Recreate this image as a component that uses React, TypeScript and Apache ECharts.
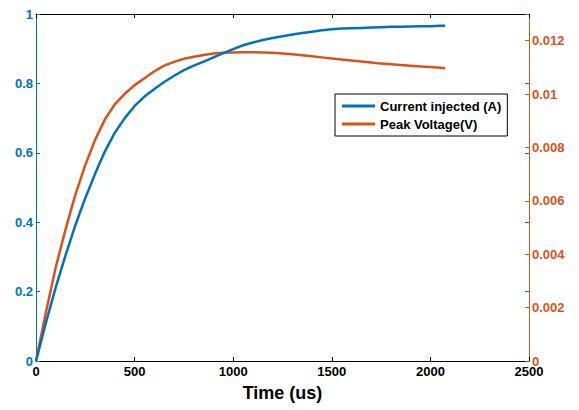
import React, { useEffect, useRef } from "react";
import * as echarts from "echarts";

const timeUs = [0, 50, 100, 150, 200, 250, 300, 350, 400, 450, 500, 550, 600, 650, 700, 750, 800, 850, 900, 950, 1000, 1050, 1100, 1150, 1200, 1250, 1300, 1350, 1400, 1450, 1500, 1550, 1600, 1650, 1700, 1750, 1800, 1850, 1900, 1950, 2000, 2050, 2075];
const currentA = [0, 0.11, 0.212, 0.305, 0.392, 0.47, 0.54, 0.605, 0.658, 0.70, 0.735, 0.762, 0.784, 0.804, 0.822, 0.838, 0.851, 0.863, 0.875, 0.887, 0.899, 0.91, 0.918, 0.925, 0.931, 0.936, 0.941, 0.945, 0.949, 0.953, 0.956, 0.958, 0.959, 0.96, 0.961, 0.962, 0.963, 0.963, 0.964, 0.965, 0.965, 0.966, 0.966];
const peakVoltageV = [0, 0.00182, 0.00351, 0.00494, 0.00624, 0.007345, 0.008294, 0.009061, 0.00962, 0.01001, 0.010335, 0.010595, 0.010855, 0.011063, 0.011206, 0.011323, 0.011401, 0.011466, 0.011518, 0.011544, 0.011557, 0.01157, 0.01157, 0.011557, 0.011544, 0.011518, 0.011492, 0.011453, 0.011414, 0.011375, 0.011336, 0.011297, 0.011258, 0.011219, 0.01118, 0.011141, 0.011115, 0.011089, 0.011063, 0.011037, 0.011011, 0.010985, 0.010972];
const leftTicks = ["0", "0.2", "0.4", "0.6", "0.8", "1"];
const rightTicks = ["0", "0.002", "0.004", "0.006", "0.008", "0.01", "0.012"];
const xTicks = ["0", "500", "1000", "1500", "2000", "2500"];
const seriesNames = ["Current injected (A)", "Peak Voltage(V)"];

const BLUE = "#0072BD";
const ORANGE = "#D95319";
const FONT = "Arial, 'Liberation Sans', sans-serif";

export default function App() {
  const ref = useRef<HTMLDivElement>(null);
  useEffect(() => {
    if (!ref.current) return;
    const chart = echarts.init(ref.current, null, { renderer: "svg" });
    const labelStyle = (color: string) => ({
      color,
      fontWeight: "bold" as const,
      fontSize: 13,
      fontFamily: FONT,
    });
    const gridBox = { left: 36, right: 50, top: 14, bottom: 49, containLabel: false };
    chart.setOption({
      animation: false,
      backgroundColor: "#ffffff",
      grid: [gridBox, { ...gridBox }],
      legend: {
        data: seriesNames,
        orient: "vertical",
        left: 335,
        top: 94,
        backgroundColor: "#ffffff",
        borderColor: "#000000",
        borderWidth: 1,
        borderRadius: 0,
        padding: [5, 6, 5, 7],
        itemGap: 4,
        itemWidth: 33,
        itemHeight: 3,
        icon: "rect",
        textStyle: { color: "#000", fontWeight: "bold", fontSize: 13, fontFamily: FONT, lineHeight: 14 },
      },
      xAxis: [
        {
          type: "value",
          gridIndex: 0,
          position: "bottom",
          min: 0,
          max: 2500,
          interval: 500,
          name: "Time (us)",
          nameLocation: "middle",
          nameGap: 23,
          nameTextStyle: { color: "#000", fontWeight: "bold", fontSize: 18, fontFamily: FONT },
          axisLine: { show: true, onZero: false, lineStyle: { color: "#000", width: 1 } },
          axisTick: { show: true, inside: true, length: 4, lineStyle: { color: "#000" } },
          axisLabel: {
            ...labelStyle("#000"),
            margin: 4,
            formatter: (v: number) => xTicks[Math.round(v / 500)] ?? "",
          },
          splitLine: { show: false },
        },
        {
          type: "value",
          gridIndex: 0,
          position: "top",
          min: 0,
          max: 2500,
          interval: 500,
          axisLine: { show: true, onZero: false, lineStyle: { color: "#000", width: 1 } },
          axisTick: { show: true, inside: true, length: 4, lineStyle: { color: "#000" } },
          axisLabel: { show: false },
          splitLine: { show: false },
        },
        {
          type: "value",
          gridIndex: 1,
          position: "bottom",
          min: 0,
          max: 2500,
          show: false,
        },
      ],
      yAxis: [
        {
          type: "value",
          gridIndex: 0,
          position: "left",
          min: 0,
          max: 1,
          interval: 0.2,
          axisLine: { show: true, onZero: false, lineStyle: { color: BLUE, width: 1 } },
          axisTick: { show: true, inside: true, length: 4, lineStyle: { color: BLUE } },
          axisLabel: {
            ...labelStyle(BLUE),
            margin: 3,
            formatter: (v: number) => leftTicks[Math.round(v / 0.2)] ?? "",
          },
          splitLine: { show: false },
        },
        {
          type: "value",
          gridIndex: 0,
          position: "right",
          min: 0,
          max: 0.013,
          interval: 0.002,
          axisLine: { show: true, onZero: false, lineStyle: { color: ORANGE, width: 1 } },
          axisTick: { show: true, inside: true, length: 4, lineStyle: { color: ORANGE } },
          axisLabel: {
            ...labelStyle(ORANGE),
            margin: 3,
            showMaxLabel: false,
            formatter: (v: number) => {
              const i = Math.round(v / 0.002);
              return Math.abs(v - i * 0.002) < 1e-9 ? rightTicks[i] ?? "" : "";
            },
          },
          splitLine: { show: false },
        },
        {
          type: "value",
          gridIndex: 1,
          position: "right",
          min: 0,
          max: 1,
          interval: 0.2,
          axisLine: { show: false, onZero: false },
          axisTick: { show: true, inside: true, length: 4, lineStyle: { color: BLUE } },
          axisLabel: { show: false },
          splitLine: { show: false },
        },
      ],
      series: [
        {
          name: seriesNames[1],
          type: "line",
          xAxisIndex: 0,
          yAxisIndex: 1,
          data: timeUs.map((t, i) => [t, peakVoltageV[i]]),
          showSymbol: false,
          smooth: false,
          lineStyle: { color: ORANGE, width: 2.5 },
          itemStyle: { color: ORANGE },
          z: 2,
        },
        {
          name: seriesNames[0],
          type: "line",
          xAxisIndex: 0,
          yAxisIndex: 0,
          data: timeUs.map((t, i) => [t, currentA[i]]),
          showSymbol: false,
          smooth: false,
          lineStyle: { color: BLUE, width: 2.5 },
          itemStyle: { color: BLUE },
          z: 3,
        },
      ],
    });
    return () => chart.dispose();
  }, []);
  return (
    <div
      ref={ref}
      style={{ position: "fixed", left: 0, top: 0, width: 579, height: 410, background: "#fff" }}
    />
  );
}
